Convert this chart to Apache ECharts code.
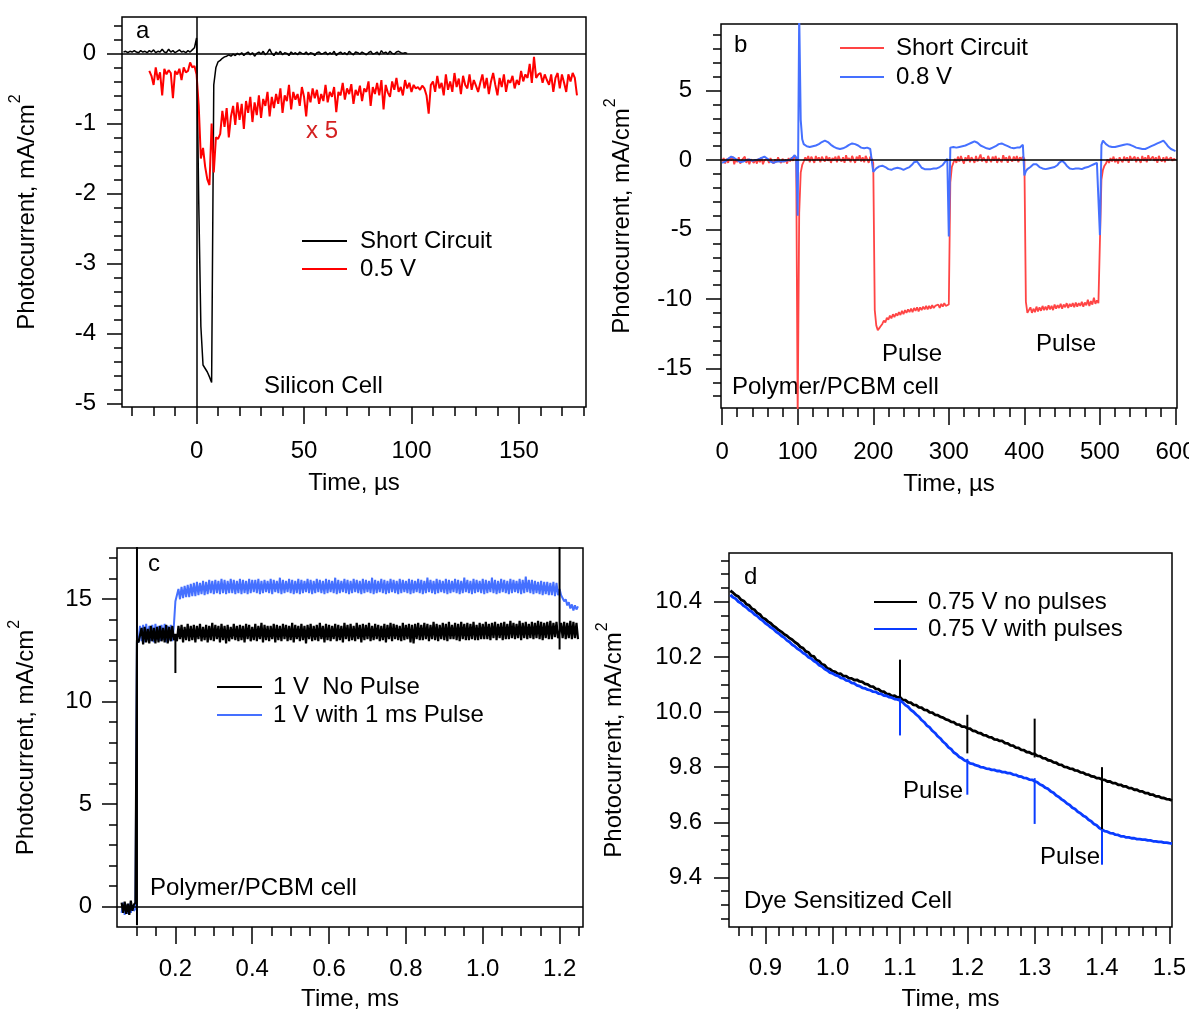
<!DOCTYPE html>
<html>
<head>
<meta charset="utf-8">
<script src="https://cdn.jsdelivr.net/npm/echarts@6/dist/echarts.min.js"></script>
<style>
  html, body { margin: 0; padding: 0; background: #fff; }
  #chart { width: 1189px; height: 1010px; }
</style>
</head>
<body>
<div id="chart"></div>
<script>
// ---------------- Panel a: silicon cell (time in µs) ----------------
const siliconShortStart = -34, siliconShortStep = 1;
const siliconShortCircuit = [
  0.02,0.03,0.01,0.03,0.02,0.04,0.02,0.01,0.04,0.02,
  0.03,0.01,0.04,0.02,0.05,0.01,0.03,0.02,0.06,0.02,
  0.01,0.06,0.02,0.04,0.01,0.03,0.05,0.02,0.03,0.01,
  0.04,0.02,0.05,0.08,
  0.22,-2.1,-3.9,-4.45,-4.5,-4.55,-4.62,-4.7,-0.45,-0.2,
  -0.12,-0.1,-0.07,-0.05,-0.04,-0.02,-0.04,-0.01,-0.03,0.0,
  -0.02,0.01,-0.03,0.0,0.02,-0.02,0.01,-0.04,0.0,0.02,
  -0.01,0.03,-0.02,0.01,0.06,0.0,-0.03,0.02,-0.01,0.03,
  -0.02,0.01,0.0,-0.03,0.02,-0.01,0.01,-0.02,0.02,0.0,
  -0.01,0.02,-0.02,0.01,0.0,-0.03,0.01,0.02,-0.01,0.0,
  0.02,-0.02,0.01,-0.01,0.03,-0.03,0.0,0.02,-0.01,0.01,
  -0.02,0.03,0.0,-0.02,0.02,0.01,-0.01,0.02,0.0,-0.02,
  0.01,0.03,-0.01,0.0,0.02,-0.02,0.04,0.0,0.02,-0.01,
  0.03,0.0,-0.01,0.02,0.03,0.01,0.0,0.01,0.0
];
// 0.5 V trace, already multiplied by 5
const siliconBiasStart = -22, siliconBiasStep = 1;
const siliconBias05V = [
  -0.25,-0.32,-0.45,-0.2,-0.38,-0.27,-0.6,-0.22,-0.3,-0.24,
  -0.28,-0.64,-0.25,-0.3,-0.22,-0.38,-0.2,-0.27,-0.25,-0.13,
  -0.2,-0.18,-0.3,-0.75,-1.5,-1.35,-1.62,-1.8,-1.88,-1.0,
  -1.7,-1.2,-1.22,-1.15,-0.82,-1.05,-0.78,-1.2,-0.9,-0.75,
  -1.02,-0.7,-0.95,-0.72,-1.08,-0.68,-0.85,-0.62,-0.98,-0.7,
  -0.88,-0.6,-0.92,-0.65,-0.75,-0.55,-0.9,-0.62,-0.78,-0.58,
  -0.72,-0.5,-0.85,-0.6,-0.68,-0.45,-0.8,-0.55,-0.66,-0.58,
  -0.75,-0.48,-0.62,-0.9,-0.55,-0.7,-0.5,-0.64,-0.52,-0.72,
  -0.58,-0.68,-0.45,-0.7,-0.55,-0.62,-0.48,-0.84,-0.55,-0.6,
  -0.42,-0.66,-0.5,-0.58,-0.44,-0.72,-0.52,-0.6,-0.46,-0.68,
  -0.5,-0.55,-0.4,-0.75,-0.48,-0.58,-0.42,-0.6,-0.38,-0.8,
  -0.45,-0.56,-0.62,-0.4,-0.52,-0.35,-0.55,-0.48,-0.6,-0.38,
  -0.5,-0.42,-0.55,-0.45,-0.5,-0.48,-0.52,-0.46,-0.5,-0.6,
  -0.86,-0.45,-0.4,-0.55,-0.32,-0.5,-0.42,-0.6,-0.3,-0.52,
  -0.4,-0.55,-0.28,-0.48,-0.36,-0.58,-0.32,-0.45,-0.5,-0.3,
  -0.52,-0.38,-0.46,-0.55,-0.42,-0.3,-0.5,-0.35,-0.58,-0.4,
  -0.28,-0.45,-0.6,-0.35,-0.48,-0.3,-0.55,-0.38,-0.42,-0.32,
  -0.5,-0.38,-0.45,-0.25,-0.4,-0.3,-0.35,-0.15,-0.42,-0.05,
  -0.35,-0.3,-0.28,-0.42,-0.3,-0.38,-0.45,-0.3,-0.55,-0.35,
  -0.28,-0.5,-0.3,-0.42,-0.55,-0.3,-0.4,-0.28,-0.35,-0.6
];
const siliconTimeTicks = [0, 50, 100, 150];
const siliconCurrentTicks = [-5, -4, -3, -2, -1, 0];

// ---------------- Panel b: polymer/PCBM cell, 100 µs pulses ----------------
const pulseStart = 0, pulseStep = 2;
const pulseShortCircuit = [
  -0.1,0.15,-0.25,0.1,-0.2,0.2,-0.05,0.25,-0.3,0.05,
  -0.15,0.2,-0.25,0.0,-0.1,0.25,-0.2,0.1,-0.3,0.05,
  0.15,-0.2,0.05,-0.25,0.1,-0.15,0.2,-0.3,0.0,-0.1,
  0.1,-0.2,0.15,-0.1,-0.25,0.05,-0.15,0.2,-0.05,-0.2,
  0.1,-0.15,0.05,-0.25,0.15,-0.1,0.2,-0.05,0.3,0.1,
  -18.5,-3.8,-0.9,-0.35,
  -0.1,0.2,0.0,0.3,-0.15,0.25,0.05,-0.2,0.3,0.0,
  0.2,-0.15,0.25,0.05,-0.1,0.3,-0.05,0.2,-0.2,0.15,
  0.0,0.25,-0.15,0.3,0.05,-0.1,0.2,-0.2,0.35,0.0,
  0.15,-0.15,0.3,0.05,-0.2,0.25,0.0,0.35,-0.1,0.2,
  -0.15,0.3,0.05,-0.2,0.25,0.1,
  -0.2,-10.8,-11.9,-12.25,-12.1,-11.95,
  -11.8,-11.55,-11.7,-11.35,-11.5,-11.2,-11.4,-11.1,-11.3,-11.05,
  -11.2,-10.95,-11.15,-10.85,-11.1,-10.8,-11.0,-10.75,-10.95,-10.7,
  -10.95,-10.65,-10.85,-10.6,-10.9,-10.6,-10.8,-10.55,-10.75,-10.5,
  -10.75,-10.5,-10.7,-10.45,-10.65,-10.5,-10.6,-10.4,-10.65,-10.35,
  -10.55,-10.3,-10.5,-10.45,
  -10.4,-1.6,-0.5,-0.2,
  0.1,-0.2,0.25,-0.1,0.3,0.0,-0.25,0.2,-0.05,0.35,
  -0.15,0.2,0.05,-0.2,0.3,-0.1,0.15,0.4,-0.1,0.2,
  0.0,-0.2,0.3,0.05,-0.15,0.25,-0.05,0.3,-0.2,0.15,
  0.05,-0.15,0.35,0.0,0.2,-0.2,0.3,0.05,-0.1,0.25,
  -0.05,0.3,-0.15,0.2,0.05,0.25,
  0.1,-10.2,-11.0,-11.1,
  -10.6,-11.0,-10.7,-10.95,-10.55,-10.9,-10.6,-10.85,-10.5,-10.8,
  -10.55,-10.8,-10.45,-10.75,-10.5,-10.8,-10.4,-10.7,-10.45,-10.65,
  -10.35,-10.7,-10.4,-10.6,-10.3,-10.65,-10.35,-10.55,-10.3,-10.6,
  -10.25,-10.55,-10.3,-10.5,-10.2,-10.55,-10.25,-10.45,-10.05,-10.5,
  -10.15,-10.4,-9.9,-10.35,-10.1,-10.3,
  -10.4,-1.4,-0.7,-0.4,-0.25,
  0.05,-0.2,0.15,-0.1,0.25,-0.15,0.1,-0.25,0.2,0.0,
  -0.15,0.25,-0.05,0.2,-0.2,0.3,0.0,-0.1,0.25,-0.15,
  0.2,0.05,-0.2,0.3,-0.05,0.2,-0.15,0.35,0.0,-0.1,
  0.25,-0.05,0.2,-0.2,0.3,0.05,-0.1,0.2,-0.15,0.25,
  0.0,-0.1,0.2,-0.05,0.1,0.0
];
const pulseBias08V = [
  -0.2,-0.15,-0.1,0.0,0.1,0.2,0.25,0.2,0.15,0.05,
  0.0,-0.1,-0.15,-0.15,-0.1,-0.05,0.0,0.0,0.05,0.0,
  -0.05,-0.05,0.0,0.0,0.05,0.05,0.15,0.25,0.25,0.2,
  0.1,0.0,-0.1,-0.2,-0.2,-0.15,-0.1,-0.1,-0.1,-0.1,
  -0.1,-0.05,-0.05,0.0,0.0,0.05,0.1,0.2,0.35,0.2,
  -4.0,10.5,2.9,1.5,
  1.15,1.05,1.0,1.0,0.95,1.0,1.0,1.05,1.05,1.1,
  1.15,1.2,1.3,1.35,1.4,1.35,1.3,1.2,1.1,1.05,
  0.95,0.9,0.85,0.85,0.8,0.85,0.85,0.9,0.95,1.05,
  1.1,1.15,1.2,1.2,1.15,1.1,1.05,0.95,0.9,0.9,
  0.85,0.85,0.9,0.85,0.8,0.9,
  -0.85,-0.75,-0.6,-0.5,-0.45,-0.4,
  -0.4,-0.45,-0.5,-0.6,-0.65,-0.7,-0.7,-0.65,-0.6,-0.55,
  -0.55,-0.6,-0.6,-0.65,-0.7,-0.65,-0.6,-0.55,-0.5,-0.4,
  -0.3,-0.15,-0.05,-0.1,-0.25,-0.4,-0.55,-0.6,-0.65,-0.7,
  -0.65,-0.7,-0.65,-0.6,-0.6,-0.55,-0.6,-0.55,-0.5,-0.45,
  -0.35,-0.2,-0.05,0.1,
  -5.5,0.9,1.0,0.95,
  0.95,0.9,0.9,0.95,1.0,1.0,1.05,1.05,1.1,1.15,
  1.2,1.25,1.3,1.35,1.3,1.25,1.15,1.05,1.0,0.95,
  0.9,0.85,0.8,0.8,0.85,0.9,0.95,1.0,1.1,1.15,
  1.2,1.2,1.15,1.1,1.05,1.0,0.95,0.9,0.85,0.85,
  0.85,0.9,0.85,0.9,0.95,1.1,
  -1.1,-0.8,-0.65,-0.55,
  -0.5,-0.4,-0.3,-0.25,-0.3,-0.4,-0.5,-0.55,-0.6,-0.65,
  -0.65,-0.6,-0.6,-0.55,-0.55,-0.5,-0.5,-0.45,-0.35,-0.2,
  -0.1,-0.05,-0.1,-0.25,-0.4,-0.5,-0.6,-0.65,-0.65,-0.6,
  -0.6,-0.55,-0.6,-0.6,-0.65,-0.6,-0.55,-0.5,-0.5,-0.45,
  -0.4,-0.35,-0.3,-0.25,-0.2,-0.1,
  -5.4,1.1,1.4,1.3,1.15,
  1.05,1.0,0.95,0.95,0.95,0.95,1.0,1.0,1.05,1.05,
  1.1,1.1,1.15,1.15,1.15,1.1,1.05,1.0,0.95,0.9,
  0.9,0.85,0.85,0.8,0.8,0.8,0.85,0.9,0.95,1.0,
  1.05,1.1,1.15,1.2,1.25,1.3,1.35,1.4,1.3,1.15,
  1.0,0.9,0.8,0.75,0.7,0.65
];
const pulseTimeTicks = [0, 100, 200, 300, 400, 500, 600];
const pulseCurrentTicks = [-15, -10, -5, 0, 5];

// ---------------- Panel c: polymer/PCBM cell, 1 ms pulse (time in ms) ----------------
const longStart = 0.06, longStep = 0.004;
const longNoPulse = [
  0.2,-0.3,0.25,-0.35,0.15,-0.4,0.3,-0.2,0.1,
  0.2,13.0,12.9,
  12.85,13.6,12.8,13.65,12.9,13.55,12.85,13.7,12.95,13.6,12.85,13.65,12.9,13.7,12.95,13.6,12.9,13.75,12.85,13.65,12.95,13.7,13.0,
  13.3,
  12.95,13.7,13.05,13.75,12.9,13.65,13.0,13.8,12.95,13.7,
  13.0,13.75,12.9,13.7,13.05,13.8,12.95,13.65,13.0,13.75,
  12.9,13.7,13.0,13.85,12.95,13.75,13.05,13.7,12.9,13.8,
  13.0,13.7,12.85,13.75,12.95,13.65,13.05,13.8,13.0,13.7,
  12.95,13.75,13.0,13.7,12.9,13.8,13.05,13.75,12.95,13.65,
  13.0,13.8,12.95,13.7,13.05,13.85,12.9,13.75,13.0,13.7,
  12.95,13.7,13.05,13.8,12.9,13.75,13.0,13.7,12.95,13.8,
  13.05,13.75,12.95,13.7,13.0,13.85,12.9,13.75,13.05,13.7,
  12.95,13.8,13.0,13.7,12.85,13.75,13.05,13.8,12.95,13.7,
  13.0,13.75,12.95,13.85,13.05,13.7,12.9,13.8,13.0,13.75,
  12.95,13.7,13.05,13.8,12.95,13.75,13.0,13.7,12.9,13.85,
  13.05,13.75,12.95,13.8,13.0,13.7,12.95,13.85,13.05,13.75,
  12.9,13.8,13.0,13.75,13.05,13.85,12.95,13.7,13.0,13.8,
  13.05,13.75,12.95,13.7,13.0,13.8,12.9,13.75,13.05,13.85,
  12.95,13.8,13.05,13.75,13.0,13.7,12.95,13.85,13.0,13.75,
  13.05,13.8,12.9,13.75,12.85,13.8,13.05,13.85,13.0,13.75,
  13.0,13.85,13.05,13.8,12.95,13.75,13.05,13.9,13.0,13.8,
  12.95,13.75,13.05,13.85,13.0,13.8,12.95,13.9,13.05,13.75,
  13.05,13.85,13.0,13.8,12.95,13.9,13.05,13.8,13.0,13.85,
  13.0,13.8,13.05,13.9,13.0,13.75,13.0,13.85,13.05,13.8,
  13.05,13.9,13.05,13.8,13.0,13.85,13.1,13.9,13.0,13.8,
  13.1,13.85,13.0,13.9,13.05,13.8,13.05,13.95,13.1,13.85,
  13.05,13.8,13.1,13.95,13.0,13.85,13.1,13.9,13.05,13.8,
  13.1,13.9,13.05,13.85,13.1,13.95,13.05,13.9,13.0,13.85,
  13.1,13.9,13.05,13.95,13.05,13.85,13.15,13.9,13.1,
  13.4,13.85,
  13.1,13.9,13.05,13.85,13.1,13.95,13.05,13.9,13.1,13.85,13.05
];
const longWithPulse = [
  -0.3,0.2,-0.4,0.1,-0.35,0.15,-0.3,0.05,-0.2,
  -0.1,13.0,
  12.9,13.7,12.95,13.75,12.9,13.8,13.0,13.7,12.95,13.75,12.9,13.8,13.0,13.7,12.95,13.75,13.0,13.8,12.9,13.7,13.0,13.75,12.95,13.7,
  14.9,
  14.95,15.5,15.0,15.6,15.05,15.65,15.1,15.7,15.1,15.75,
  15.15,15.8,15.15,15.85,15.2,15.8,15.25,15.9,15.2,15.85,
  15.25,15.95,15.3,15.9,15.25,15.95,15.3,15.9,15.25,16.0,
  15.3,15.95,15.25,15.9,15.3,16.0,15.3,15.95,15.25,15.9,
  15.3,16.0,15.25,15.95,15.3,15.9,15.25,16.0,15.3,15.95,
  15.35,15.95,15.3,16.0,15.25,15.9,15.3,15.95,15.35,15.9,
  15.3,16.0,15.25,15.95,15.35,15.9,15.3,16.05,15.25,15.95,
  15.3,15.9,15.35,16.0,15.3,15.95,15.25,15.9,15.3,16.0,
  15.25,15.95,15.3,15.9,15.35,16.0,15.3,15.95,15.25,15.9,
  15.3,16.0,15.35,15.95,15.3,15.9,15.25,16.0,15.3,15.95,
  15.35,15.9,15.3,16.05,15.25,15.95,15.3,15.9,15.35,16.0,
  15.3,15.95,15.25,15.9,15.3,16.0,15.35,15.95,15.3,15.9,
  15.25,16.0,15.3,15.95,15.35,15.9,15.3,16.05,15.25,15.95,
  15.3,15.9,15.35,16.0,15.3,15.95,15.25,15.9,15.3,16.0,
  15.35,15.95,15.3,15.9,15.25,16.0,15.3,15.95,15.35,15.9,
  15.3,16.0,15.25,15.95,15.3,15.9,15.35,16.0,15.3,15.95,
  15.25,15.9,15.3,16.05,15.35,15.95,15.3,15.9,15.25,16.0,
  15.3,15.95,15.35,15.9,15.3,16.0,15.25,15.95,15.3,15.9,
  15.35,16.0,15.3,15.95,15.25,15.9,15.3,16.05,15.35,15.95,
  15.3,15.9,15.25,16.0,15.3,15.95,15.35,15.9,15.3,16.0,
  15.25,15.95,15.3,15.9,15.35,16.05,15.3,15.95,15.25,15.9,
  15.3,16.0,15.35,15.95,15.3,15.9,15.25,16.0,15.3,15.95,
  15.35,15.9,15.3,16.0,15.25,15.95,15.3,16.1,15.35,15.95,
  15.3,15.95,15.25,15.9,15.3,15.85,15.25,15.9,15.2,15.85,
  15.25,15.85,15.2,15.8,15.2,15.85,15.15,15.8,15.2,
  15.5,15.2,
  15.15,14.9,15.0,14.7,14.85,14.55,14.75,14.45,14.7,14.5,14.65
];
// switching transients of the no-pulse trace: [time, low, high]
const longSpikesNoPulse = [[0.1, -0.9, 17.8], [0.2, 11.4, 13.3], [1.2, 12.55, 17.8]];
const longTimeTicks = [0.2, 0.4, 0.6, 0.8, 1.0, 1.2];
const longCurrentTicks = [0, 5, 10, 15];

// ---------------- Panel d: dye sensitized cell (time in ms) ----------------
const dyeStart = 0.848, dyeStep = 0.004;
const dyeNoPulses = [
  10.44,10.433,10.424,10.419,10.407,10.403,10.391,10.387,10.375,10.371,
  10.359,10.354,10.341,10.337,10.328,10.322,10.312,10.306,10.297,10.291,
  10.282,10.277,10.268,10.262,10.253,10.247,10.236,10.232,10.22,10.217,
  10.204,10.202,10.188,10.185,10.173,10.17,10.158,10.156,10.148,10.146,
  10.138,10.139,10.13,10.13,10.123,10.122,10.116,10.117,10.111,10.109,
  10.102,10.1,10.093,10.092,10.084,10.083,10.075,10.074,10.066,10.065,
  10.058,10.059,10.053,10.054,10.044,10.043,10.035,10.034,10.026,10.025,
  10.017,10.016,10.008,10.007,9.999,9.998,9.99,9.989,9.982,9.98,
  9.973,9.971,9.964,9.963,9.955,9.954,9.947,9.947,9.941,9.94,
  9.932,9.931,9.924,9.923,9.916,9.915,9.909,9.908,9.901,9.9,
  9.895,9.895,9.887,9.886,9.879,9.878,9.871,9.87,9.863,9.862,
  9.855,9.854,9.848,9.848,9.841,9.84,9.833,9.832,9.825,9.824,
  9.817,9.816,9.809,9.808,9.801,9.8,9.795,9.794,9.788,9.787,
  9.781,9.78,9.774,9.773,9.767,9.766,9.76,9.76,9.755,9.754,
  9.748,9.748,9.742,9.742,9.736,9.736,9.73,9.73,9.724,9.724,
  9.718,9.718,9.712,9.712,9.706,9.706,9.7,9.7,9.694,9.694,
  9.689,9.688,9.684,9.683,9.679
];
const dyeWithPulses = [
  10.425,10.416,10.411,10.4,10.395,10.385,10.379,10.369,10.364,10.354,
  10.348,10.338,10.332,10.322,10.316,10.307,10.301,10.291,10.285,10.276,
  10.27,10.26,10.254,10.244,10.238,10.229,10.223,10.214,10.209,10.199,
  10.194,10.185,10.18,10.17,10.165,10.156,10.151,10.143,10.14,10.134,
  10.131,10.124,10.122,10.115,10.113,10.106,10.104,10.097,10.094,10.088,
  10.086,10.081,10.079,10.074,10.073,10.067,10.066,10.06,10.059,10.054,
  10.052,10.047,10.046,10.042,10.035,10.025,10.019,10.008,10.001,9.991,
  9.983,9.971,9.963,9.951,9.944,9.932,9.924,9.912,9.904,9.892,
  9.884,9.872,9.865,9.853,9.847,9.837,9.832,9.824,9.821,9.814,
  9.812,9.807,9.805,9.8,9.799,9.795,9.794,9.79,9.79,9.786,
  9.786,9.782,9.782,9.778,9.778,9.773,9.772,9.767,9.766,9.761,
  9.76,9.755,9.754,9.749,9.745,9.737,9.733,9.725,9.721,9.712,
  9.707,9.697,9.692,9.683,9.677,9.668,9.663,9.653,9.648,9.638,
  9.633,9.624,9.619,9.609,9.604,9.594,9.589,9.579,9.574,9.568,
  9.566,9.561,9.56,9.555,9.554,9.549,9.549,9.545,9.545,9.542,
  9.542,9.539,9.539,9.537,9.537,9.534,9.534,9.531,9.531,9.529,
  9.529,9.526,9.526,9.524,9.523
];
// switching transients: [time, low, high]
const dyeSpikesNoPulses = [[1.1, 10.05, 10.19], [1.2, 9.85, 9.99], [1.3, 9.835, 9.976], [1.4, 9.575, 9.80]];
const dyeSpikesWithPulses = [[1.1, 9.915, 10.065], [1.2, 9.70, 9.83], [1.3, 9.594, 9.76], [1.4, 9.446, 9.58]];
const dyeTimeTicks = [0.9, 1.0, 1.1, 1.2, 1.3, 1.4, 1.5];
const dyeCurrentTicks = [9.4, 9.6, 9.8, 10.0, 10.2, 10.4];

// ---------------- helpers ----------------
const FONT = "'Liberation Sans', Arial, Helvetica, sans-serif";
const INK = '#000';

function trace(start, step, values) {
  return values.map((v, i) => [Math.round((start + i * step) * 1e6) / 1e6, v]);
}
function steps(from, to, step) {
  const out = [];
  for (let k = 0; from + k * step <= to + 1e-9; k++) out.push(Math.round((from + k * step) * 1e6) / 1e6);
  return out;
}

const yTitle = '{m|Photocurrent, mA/cm}{s|2}';
const titleRich = {
  m: { fontSize: 24, fontFamily: FONT, color: INK },
  s: { fontSize: 16, fontFamily: FONT, color: INK, verticalAlign: 'top', padding: [0, 0, 22, 1] }
};

function axisPair(dim, gridIndex, c) {
  const isX = dim === 'x';
  const base = {
    type: 'value', gridIndex, min: c.min, max: c.max, position: isX ? 'bottom' : 'left',
    axisLine: { show: false, onZero: false }, splitLine: { show: false },
    minorTick: { show: false }, minorSplitLine: { show: false }
  };
  const major = Object.assign({}, base, {
    name: isX ? c.name : yTitle, nameLocation: 'middle', nameGap: c.nameGap,
    nameTextStyle: isX ? { fontSize: 24, fontFamily: FONT, color: INK } : { fontSize: 24, fontFamily: FONT, color: INK, rich: titleRich },
    axisTick: { show: true, inside: false, customValues: c.major, length: isX ? 17 : 15, lineStyle: { color: INK, width: 1.5 } },
    axisLabel: { show: true, customValues: c.major, formatter: c.fmt, margin: c.margin, color: INK, fontSize: 24, fontFamily: FONT, hideOverlap: false }
  });
  const minor = Object.assign({}, base, {
    axisTick: { show: true, inside: false, customValues: c.minor, length: isX ? 9 : 8, lineStyle: { color: INK, width: 1.5 } },
    axisLabel: { show: false }
  });
  return [major, minor];
}

const int = v => String(v);
const oneDec = v => v.toFixed(1);

const grids = [
  { left: 122, top: 17, width: 464, height: 390 },
  { left: 721, top: 24, width: 456, height: 384 },
  { left: 117, top: 548, width: 466, height: 379 },
  { left: 729, top: 553, width: 443, height: 374 }
];

const xAxes = [].concat(
  axisPair('x', 0, { min: -34.7, max: 181.2, major: siliconTimeTicks, minor: steps(-30, 180, 10), fmt: int, margin: 32, name: 'Time, µs', nameGap: 64 }),
  axisPair('x', 1, { min: -1.5, max: 602, major: pulseTimeTicks, minor: steps(0, 600, 20), fmt: int, margin: 32, name: 'Time, µs', nameGap: 64 }),
  axisPair('x', 2, { min: 0.048, max: 1.261, major: longTimeTicks, minor: steps(0.1, 1.25, 0.05), fmt: oneDec, margin: 30, name: 'Time, ms', nameGap: 60 }),
  axisPair('x', 3, { min: 0.846, max: 1.504, major: dyeTimeTicks, minor: steps(0.86, 1.5, 0.02), fmt: oneDec, margin: 29, name: 'Time, ms', nameGap: 60 })
);
const yAxes = [].concat(
  axisPair('y', 0, { min: -5.05, max: 0.52, major: siliconCurrentTicks, minor: steps(-5, 0.4, 0.2), fmt: int, margin: 26, nameGap: 76 }),
  axisPair('y', 1, { min: -17.85, max: 9.8, major: pulseCurrentTicks, minor: steps(-17, 9, 1), fmt: int, margin: 29, nameGap: 80 }),
  axisPair('y', 2, { min: -0.99, max: 17.5, major: longCurrentTicks, minor: steps(0, 17, 1), fmt: int, margin: 25, nameGap: 72 }),
  axisPair('y', 3, { min: 9.22, max: 10.577, major: dyeCurrentTicks, minor: steps(9.25, 10.55, 0.05), fmt: oneDec, margin: 27, nameGap: 96 })
);

function line(panel, name, data, color, width, extra) {
  return Object.assign({
    type: 'line', name, xAxisIndex: panel * 2, yAxisIndex: panel * 2, data,
    symbol: 'none', showSymbol: false, silent: true, clip: true,
    lineStyle: { color, width }, itemStyle: { color }
  }, extra || {});
}
function zeroLines(items) {
  return {
    markLine: {
      silent: true, symbol: ['none', 'none'], label: { show: false },
      lineStyle: { color: INK, type: 'solid', width: 1.5 }, data: items
    }
  };
}
function spikeSeries(panel, spikes, color, width) {
  return spikes.map(([t, lo, hi]) => line(panel, '', [[t, lo], [t, hi]], color, width));
}

const RED_A = '#ff0000', RED_B = '#ff4444', BLUE_B = '#4570ff', BLUE_D = '#0a3cff';

const series = [
  line(0, 'Short Circuit', trace(siliconShortStart, siliconShortStep, siliconShortCircuit), INK, 1.5,
    zeroLines([{ yAxis: 0 }, { xAxis: 0 }])),
  line(0, '0.5 V', trace(siliconBiasStart, siliconBiasStep, siliconBias05V), RED_A, 2),

  line(1, 'Short Circuit', trace(pulseStart, pulseStep, pulseShortCircuit), RED_B, 1.8,
    zeroLines([{ yAxis: 0 }])),
  line(1, '0.8 V', trace(pulseStart, pulseStep, pulseBias08V), BLUE_B, 2),

  line(2, '1 V with 1 ms Pulse', trace(longStart, longStep, longWithPulse), BLUE_B, 2,
    zeroLines([{ yAxis: 0 }])),
  line(2, '1 V  No Pulse', trace(longStart, longStep, longNoPulse), INK, 2.2),

  line(3, '0.75 V no pulses', trace(dyeStart, dyeStep, dyeNoPulses), INK, 2.8),
  line(3, '0.75 V with pulses', trace(dyeStart, dyeStep, dyeWithPulses), BLUE_D, 2.8)
].concat(
  spikeSeries(2, longSpikesNoPulse, INK, 2),
  spikeSeries(3, dyeSpikesWithPulses, BLUE_D, 2),
  spikeSeries(3, dyeSpikesNoPulses, INK, 2)
);

// annotation text and hand-drawn legends
function note(x, y, text, color) {
  return {
    type: 'text', x, y, silent: true,
    style: { text, fill: color || INK, font: '24px ' + FONT, fontSize: 24, fontFamily: FONT,
      textAlign: 'left', align: 'left', textVerticalAlign: 'middle', verticalAlign: 'middle' }
  };
}
function key(x1, x2, y, color) {
  return { type: 'line', silent: true, shape: { x1, y1: y, x2, y2: y }, style: { stroke: color, lineWidth: 2 } };
}

const graphic = [
  note(136, 31, 'a'),
  note(306, 131, 'x 5', '#d42020'),
  note(264, 386, 'Silicon Cell'),
  key(302, 347, 241, INK), note(360, 241, 'Short Circuit'),
  key(302, 347, 269, RED_A), note(360, 269, '0.5 V'),

  note(734, 45, 'b'),
  key(840, 884, 48, RED_B), note(896, 48, 'Short Circuit'),
  key(840, 884, 77, BLUE_B), note(896, 77, '0.8 V'),
  note(882, 354, 'Pulse'),
  note(1036, 344, 'Pulse'),
  note(732, 387, 'Polymer/PCBM cell'),

  note(148, 564, 'c'),
  key(217, 262, 687, INK), note(273, 687, '1 V  No Pulse'),
  key(217, 262, 715, BLUE_B), note(273, 715, '1 V with 1 ms Pulse'),
  note(150, 888, 'Polymer/PCBM cell'),

  note(744, 577, 'd'),
  key(874, 917, 602, INK), note(928, 602, '0.75 V no pulses'),
  key(874, 917, 629, BLUE_D), note(928, 629, '0.75 V with pulses'),
  note(903, 791, 'Pulse'),
  note(1040, 857, 'Pulse'),
  note(744, 901, 'Dye Sensitized Cell')
];

const option = {
  animation: false,
  backgroundColor: '#ffffff',
  textStyle: { fontFamily: FONT },
  grid: grids.map(g => Object.assign({
    show: true, borderColor: INK, borderWidth: 1.5, backgroundColor: 'transparent',
    containLabel: false, outerBoundsMode: 'none'
  }, g)),
  xAxis: xAxes,
  yAxis: yAxes,
  series,
  graphic
};

const chart = echarts.init(document.getElementById('chart'), null, { renderer: 'canvas' });
chart.setOption(option);
</script>
</body>
</html>
